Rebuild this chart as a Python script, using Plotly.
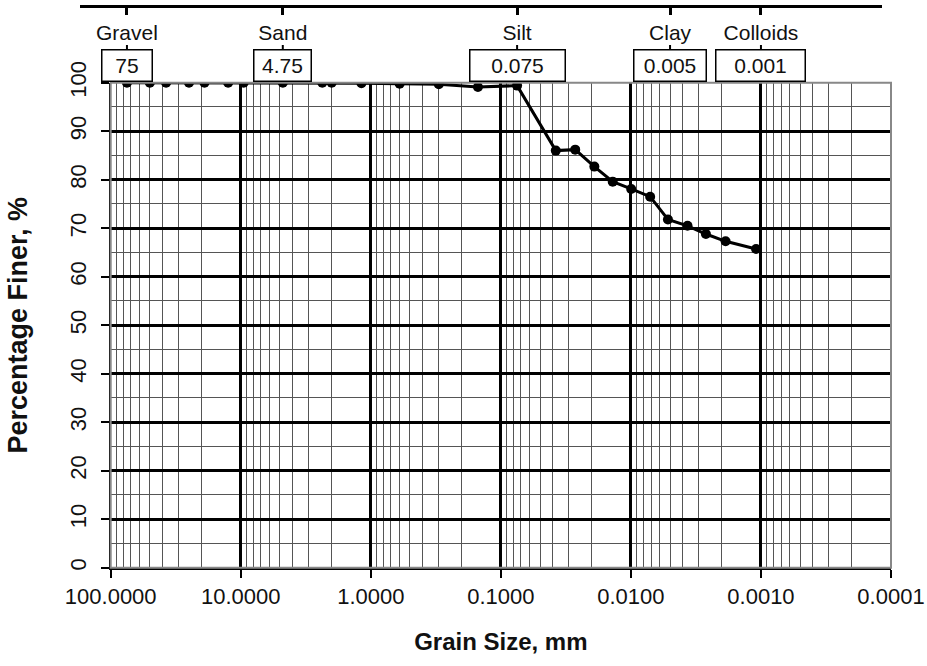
import numpy as np
import plotly.graph_objects as go

# ---- data ----
grain_size_mm = [75, 50, 37.5, 25, 19, 12.5, 9.5, 4.75, 2.36, 2.0, 1.18, 0.6, 0.3,
                 0.15, 0.075, 0.0378, 0.0268, 0.0191, 0.0138, 0.00995, 0.00711,
                 0.00519, 0.00367, 0.00265, 0.00187, 0.00109]
percent_finer = [100, 100, 100, 100, 100, 100, 100, 100, 100, 100, 99.9, 99.8, 99.7,
                 99.1, 99.4, 86.0, 86.2, 82.7, 79.6, 78.1, 76.5,
                 71.8, 70.5, 68.8, 67.3, 65.7]

class_names = ["Gravel", "Sand", "Silt", "Clay", "Colloids"]
class_bounds = [75, 4.75, 0.075, 0.005, 0.001]
class_labels = ["75", "4.75", "0.075", "0.005", "0.001"]

W, H = 927, 666
FONT = "Liberation Sans, Arial, sans-serif"

fig = go.Figure()

fig.add_trace(go.Scatter(
    x=grain_size_mm, y=percent_finer, mode="lines+markers",
    line=dict(color="black", width=3),
    marker=dict(color="black", size=10),
    xaxis="x", yaxis="y", showlegend=False, hoverinfo="x+y"))

# invisible trace that carries the top classification axis
fig.add_trace(go.Scatter(
    x=class_bounds, y=[0.5] * len(class_bounds), mode="markers",
    marker=dict(opacity=0), xaxis="x2", yaxis="y2",
    showlegend=False, hoverinfo="skip"))

x_left, x_right = 110.7, 891.0
y_top, y_bot = 82.7, 567.7
dec = (x_right - x_left) / 6.0
top_l, top_r = 80.0, 882.0

fig.update_layout(
    width=W, height=H,
    margin=dict(l=0, r=0, t=0, b=0, autoexpand=False),
    paper_bgcolor="white", plot_bgcolor="white",
    font=dict(family=FONT, color="#111", size=21),
    xaxis=dict(
        type="log", range=[2, -4], domain=[x_left / W, x_right / W], anchor="y",
        dtick=1, tickformat=".4f", automargin=False,
        showline=True, linecolor="black", linewidth=2,
        ticks="outside", ticklen=8, tickcolor="black", tickwidth=2,
        showgrid=True, gridcolor="black", gridwidth=2.5,
        minor=dict(dtick="D1", showgrid=True, gridcolor="#555", gridwidth=1, ticks=""),
        tickfont=dict(size=22, color="#111"),
        title=dict(text="<b>Grain Size, mm</b>", font=dict(size=24), standoff=25),
        zeroline=False,
    ),
    yaxis=dict(
        range=[0, 100], domain=[1 - y_bot / H, 1 - y_top / H], anchor="x",
        dtick=10, tickangle=-90, automargin=False, ticklabelstandoff=6,
        showline=True, linecolor="black", linewidth=2,
        ticks="outside", ticklen=8, tickcolor="black", tickwidth=2,
        showgrid=True, gridcolor="black", gridwidth=2.5,
        minor=dict(dtick=5, showgrid=True, gridcolor="#555", gridwidth=1, ticks=""),
        tickfont=dict(size=22, color="#111"),
        title=dict(text="<b>Percentage Finer, %</b>", font=dict(size=27), standoff=30),
        zeroline=False,
    ),
    xaxis2=dict(
        type="log",
        range=[2 + (x_left - top_l) / dec, 2 - (top_r - x_left) / dec],
        domain=[top_l / W, top_r / W], anchor="y2", side="bottom", automargin=False,
        tickvals=class_bounds, ticktext=class_names, ticklabelstandoff=0,
        showline=True, linecolor="black", linewidth=3,
        ticks="outside", ticklen=7, tickcolor="black", tickwidth=3,
        showgrid=False, zeroline=False,
        tickfont=dict(size=21, color="#111"),
    ),
    yaxis2=dict(domain=[1 - 5 / H, 1], range=[0, 1], visible=False, anchor="x2"),
)

# gray plot-area frame
fig.add_shape(type="rect", xref="x domain", yref="y domain", x0=0, x1=1, y0=0, y1=1,
              line=dict(color="#888", width=2), layer="above")

box_widths = [53, 60, 98, 75, 92]
for v, lab, bw in zip(class_bounds, class_labels, box_widths):
    fig.add_annotation(
        x=np.log10(v), xref="x2", y=1 - 66 / H, yref="paper",
        text=lab, showarrow=False, xanchor="center", yanchor="middle",
        font=dict(size=21, color="#111"),
        bgcolor="white", bordercolor="black", borderwidth=1.5, borderpad=4,
        width=bw - 12, height=22)
    fig.add_shape(type="line", xref="x2", yref="paper",
                  x0=v, x1=v, y0=1 - 45 / H, y1=1 - 50 / H,
                  line=dict(color="black", width=2))

fig.write_html("out.html", config={"displayModeBar": False},
               post_script="document.body.style.margin='0';")
